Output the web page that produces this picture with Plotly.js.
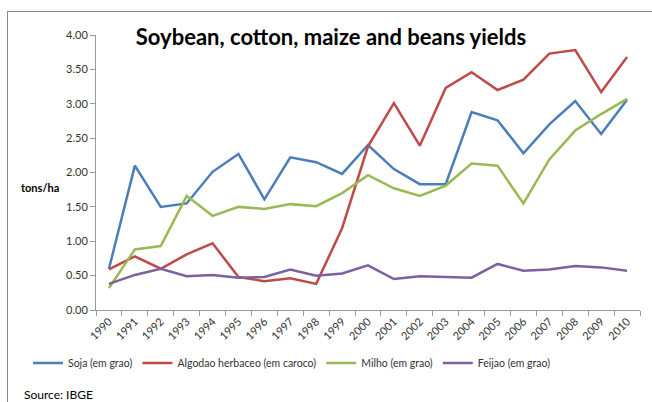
<!DOCTYPE html>
<html>
<head>
<meta charset="utf-8">
<script src="https://cdn.plot.ly/plotly-3.0.1.min.js"></script>
<style>html,body{margin:0;padding:0;background:#fff;}#chart{width:652px;height:402px;}</style>
</head>
<body>
<div id="chart"></div>
<script>
const years = ['1990','1991','1992','1993','1994','1995','1996','1997','1998','1999','2000','2001','2002','2003','2004','2005','2006','2007','2008','2009','2010'];
const soja = [0.60,2.10,1.50,1.55,2.01,2.27,1.61,2.22,2.15,1.98,2.40,2.05,1.83,1.83,2.88,2.76,2.28,2.70,3.04,2.56,3.06];
const algodao = [0.59,0.78,0.60,0.81,0.97,0.48,0.42,0.46,0.38,1.19,2.38,3.01,2.39,3.23,3.46,3.20,3.35,3.73,3.78,3.17,3.68];
const milho = [0.32,0.88,0.93,1.66,1.37,1.50,1.47,1.54,1.51,1.70,1.96,1.77,1.66,1.81,2.13,2.10,1.55,2.19,2.61,2.85,3.07];
const feijao = [0.38,0.51,0.60,0.49,0.51,0.47,0.48,0.59,0.50,0.53,0.65,0.45,0.49,0.48,0.47,0.67,0.57,0.59,0.64,0.62,0.57];
const seriesNames = ['Soja (em grao)','Algodao herbaceo (em caroco)','Milho (em grao)','Feijao (em grao)'];
const colors = ['#4A7EBB','#BE4B48','#98B954','#7D60A0'];
const values = [soja, algodao, milho, feijao];

const traces = values.map((v,i)=>({
  type:'scatter', mode:'lines', x:years, y:v, name:seriesNames[i],
  line:{color:colors[i], width:2.5}
}));

const W=652,H=402,L=96,R=12,T=35,B=92;
const pw=W-L-R, ph=H-T-B;
const px = x => (x-L)/pw;
const py = y => (H-B-y)/ph;

const layout = {
  width:W, height:H,
  margin:{l:L,r:R,t:T,b:B,pad:0},
  paper_bgcolor:'#fff', plot_bgcolor:'#fff',
  font:{family:'Lato, "Open Sans", sans-serif', color:'#333', size:11},
  title:{text:'<b>Soybean, cotton, maize and beans yields</b>', font:{size:22, color:'#000', family:'Lato, "Open Sans", sans-serif'},
    x:331/W, xref:'container', xanchor:'center', y:1-37/H, yref:'container', yanchor:'middle'},
  xaxis:{type:'category', range:[-0.5,20.5], showgrid:false, zeroline:false,
    showline:true, linecolor:'#999', linewidth:1, ticks:'outside', tickson:'boundaries', ticklen:5, tickcolor:'#999',
    tickangle:-45, tickfont:{size:11, color:'#333'}},
  yaxis:{range:[0,4], dtick:0.5, tickformat:'.2f', showgrid:false, zeroline:false,
    showline:true, linecolor:'#999', linewidth:1, ticks:'outside', ticklen:5, tickcolor:'#999',
    tickfont:{size:11, color:'#333'}},
  showlegend:true,
  legend:{orientation:'h', x:px(28), xanchor:'left', y:py(363), yanchor:'middle', font:{size:10.5, color:'#333'},
    bgcolor:'rgba(0,0,0,0)', tracegroupgap:0, itemwidth:30},
  annotations:[
    {text:'<b>tons/ha</b>', xref:'paper', yref:'paper', x:px(40), y:py(187), showarrow:false, xanchor:'center', yanchor:'middle', font:{size:11,color:'#000'}},
    {text:'Source: IBGE', xref:'paper', yref:'paper', x:px(22), y:py(394), showarrow:false, xanchor:'left', yanchor:'middle', font:{size:12,color:'#000'}}
  ],
  shapes:[
    {type:'line', xref:'paper', yref:'paper', x0:px(7), x1:px(652), y0:py(11.5), y1:py(11.5), line:{color:'#888', width:1}},
    {type:'line', xref:'paper', yref:'paper', x0:px(7.5), x1:px(7.5), y0:py(11), y1:py(402), line:{color:'#888', width:1}}
  ]
};
Plotly.newPlot('chart', traces, layout, {displayModeBar:false, staticPlot:true});
</script>
</body>
</html>
